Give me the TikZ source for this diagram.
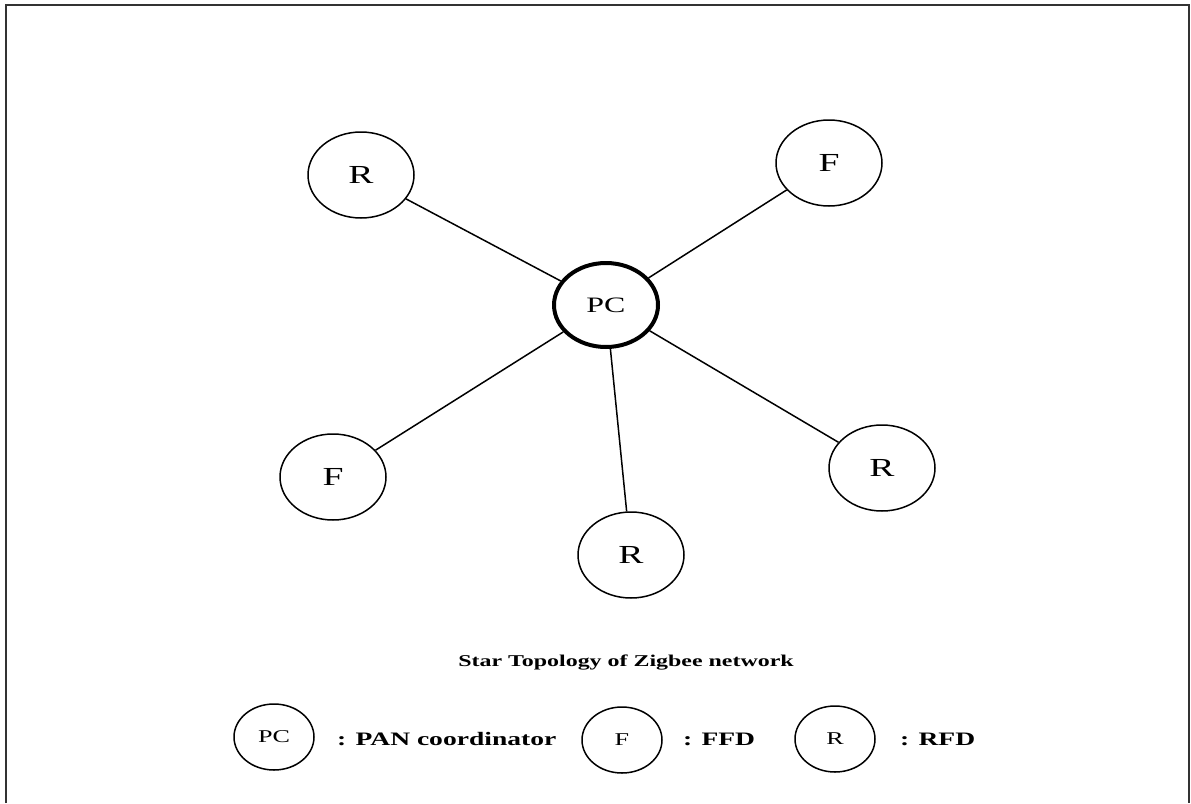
\documentclass[tikz,border=0pt]{standalone}
\usepackage{fontspec}
\setmainfont{Liberation Serif}[FakeStretch=1.45]
\usetikzlibrary{shapes.geometric}
\begin{document}
\begin{tikzpicture}[x=1pt,y=-1pt,
  dev/.style={ellipse,draw,line width=1.5pt,inner sep=0pt,
    minimum width=106pt,minimum height=86pt,font=\fontsize{26}{26}\selectfont},
  coord/.style={dev,line width=4pt,minimum width=104pt,minimum height=84pt,
    font=\fontsize{22}{22}\selectfont},
  key/.style={ellipse,draw,line width=1.5pt,inner sep=0pt,
    minimum width=80pt,minimum height=66pt,font=\fontsize{18}{18}\selectfont},
  keytext/.style={anchor=west,inner sep=0pt,font=\bfseries\fontsize{19}{19}\selectfont},
  link/.style={line width=1.5pt}]
\useasboundingbox (0,0) rectangle (1191,803);
% open frame
\draw[line width=2pt,black!80] (6,803) -- (6,5) -- (1189,5) -- (1189,803);

% star network
\node[coord] (pc) at (606,305) {PC};
\node[dev] (r1) at (361,175) {R};
\node[dev] (f1) at (829,163) {F};
\node[dev] (f2) at (333,477) {F};
\node[dev] (r2) at (631,555) {R};
\node[dev] (r3) at (882,468) {R};
\foreach \n in {r1,f1,f2,r2,r3} \draw[link] (pc) -- (\n);

% caption
\node[font=\bfseries\fontsize{16.5}{16.5}\selectfont] (cap) at (626,663) {Star Topology of Zigbee network};

% legend
\node[key] (kpc) at (274,737) {PC};
\node[keytext] (tpc) at (337,739) {: PAN coordinator};
\node[key] (kf) at (622,740) {F};
\node[keytext] (tf) at (683,739) {: FFD};
\node[key] (kr) at (835,739) {R};
\node[keytext] (tr) at (900,739) {: RFD};
\end{tikzpicture}
\end{document}
